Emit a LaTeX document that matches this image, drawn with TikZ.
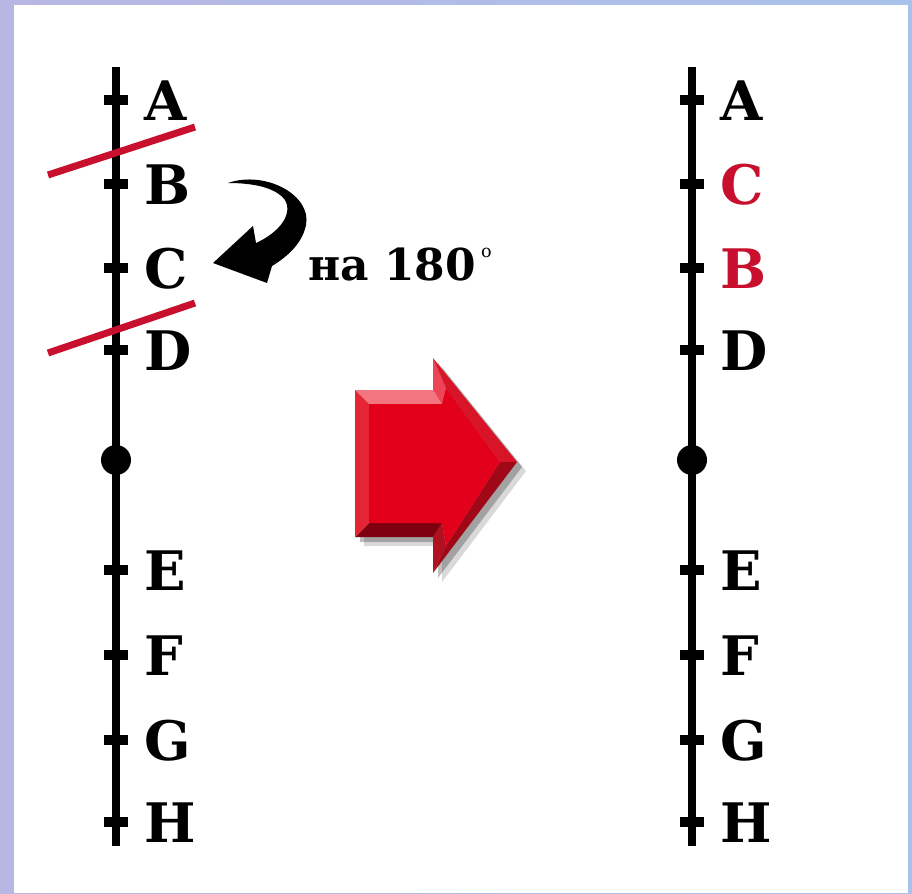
\documentclass[tikz,border=0pt]{standalone}
\usepackage{fontspec}
\setmainfont{DejaVu Serif}
\definecolor{bgL}{HTML}{B8B6E2}
\definecolor{bgR}{HTML}{A9C2EC}
\definecolor{cutred}{HTML}{C8102E}
\definecolor{arrF}{HTML}{E2001A}
\definecolor{arrTop}{HTML}{F27580}
\definecolor{arrNeck}{HTML}{EC4656}
\definecolor{arrUp}{HTML}{D81428}
\definecolor{arrLo}{HTML}{A00818}
\definecolor{arrNeckLo}{HTML}{B01020}
\definecolor{arrBot}{HTML}{7E000E}
\definecolor{arrLeft}{HTML}{E52535}
\begin{document}
\begin{tikzpicture}[x=0.02cm,y=-0.02cm,
  axis/.style={line width=0.16cm},
  tickmark/.style={line width=0.2cm},
  lab/.style={anchor=base west,inner sep=0pt,font=\fontsize{31pt}{31pt}\selectfont\bfseries},
  redlab/.style={lab,text=cutred},
  cutline/.style={cutred,line width=0.14cm}]
\useasboundingbox (0,0) rectangle (912,893);
\shade[left color=bgL,right color=bgR] (0,0) rectangle (912,893);
\fill[white] (14,5) rectangle (908,893);
% left axis
\draw[axis] (116,67) -- (116,846);
\foreach \yy in {100,184,268,350,570,655,740,822}{\draw[tickmark] (104,\yy) -- (128,\yy);}
\fill (116,460) circle[radius=0.3cm];
\node[lab] (la) at (144,120) {A};
\node[lab] (lb) at (144,204) {B};
\node[lab] (lc) at (144,288) {C};
\node[lab] (ld) at (144,370) {D};
\node[lab] (le) at (144,590) {E};
\node[lab] (lf) at (144,675) {F};
\node[lab] (lg) at (144,760) {G};
\node[lab] (lh) at (144,842) {H};
% cut lines
\draw[cutline] (48,175) -- (195,127);
\draw[cutline] (48,353) -- (195,303);
% curved arrow
\fill (228,183) .. controls (265,170) and (312,195) .. (306,225)
  .. controls (302,245) and (285,258) .. (272,266)
  -- (267,283) -- (213,263) -- (253,226) -- (256,243)
  .. controls (280,232) and (293,214) .. (285,200)
  .. controls (276,188) and (255,183) .. (228,183) -- cycle;
\node[anchor=base west,inner sep=0pt,font=\fontsize{25pt}{25pt}\selectfont\bfseries] (rot) at (308,280) {на 180\kern0.12em\raisebox{0.52em}{\fontsize{10pt}{10pt}\selectfont\mdseries o}};
% right axis
\draw[axis] (692,67) -- (692,846);
\foreach \yy in {100,184,268,350,570,655,740,822}{\draw[tickmark] (680,\yy) -- (704,\yy);}
\fill (692,460) circle[radius=0.3cm];
\node[lab] (ra) at (720,120) {A};
\node[redlab] (rc) at (720,204) {C};
\node[redlab] (rb) at (720,288) {B};
\node[lab] (rd) at (720,370) {D};
\node[lab] (re) at (720,590) {E};
\node[lab] (rf) at (720,675) {F};
\node[lab] (rg) at (720,760) {G};
\node[lab] (rh) at (720,842) {H};
% big red arrow
\coordinate (P1) at (355,390); \coordinate (P2) at (433,390);
\coordinate (P3) at (433,358); \coordinate (P4) at (517,462);
\coordinate (P5) at (433,573); \coordinate (P6) at (433,537);
\coordinate (P7) at (355,537);
\coordinate (Q1) at (369,404); \coordinate (Q2) at (442,404);
\coordinate (Q3) at (446,388); \coordinate (Q4) at (500,462);
\coordinate (Q5) at (446,546); \coordinate (Q6) at (442,523);
\coordinate (Q7) at (369,523);
\fill[black,opacity=0.15] ([shift={(9,9)}]P1) -- ([shift={(9,9)}]P2) -- ([shift={(9,9)}]P3) -- ([shift={(9,9)}]P4) -- ([shift={(9,9)}]P5) -- ([shift={(9,9)}]P6) -- ([shift={(9,9)}]P7) -- cycle;
\fill[black,opacity=0.25] ([shift={(5,5)}]P1) -- ([shift={(5,5)}]P2) -- ([shift={(5,5)}]P3) -- ([shift={(5,5)}]P4) -- ([shift={(5,5)}]P5) -- ([shift={(5,5)}]P6) -- ([shift={(5,5)}]P7) -- cycle;
\fill[arrTop] (P1) -- (P2) -- (Q2) -- (Q1) -- cycle;
\fill[arrNeck] (P2) -- (P3) -- (Q3) -- (Q2) -- cycle;
\fill[arrUp] (P3) -- (P4) -- (Q4) -- (Q3) -- cycle;
\fill[arrLo] (P4) -- (P5) -- (Q5) -- (Q4) -- cycle;
\fill[arrNeckLo] (P5) -- (P6) -- (Q6) -- (Q5) -- cycle;
\fill[arrBot] (P6) -- (P7) -- (Q7) -- (Q6) -- cycle;
\fill[arrLeft] (P7) -- (P1) -- (Q1) -- (Q7) -- cycle;
\fill[arrF] (Q1) -- (Q2) -- (Q3) -- (Q4) -- (Q5) -- (Q6) -- (Q7) -- cycle;
\end{tikzpicture}
\end{document}
